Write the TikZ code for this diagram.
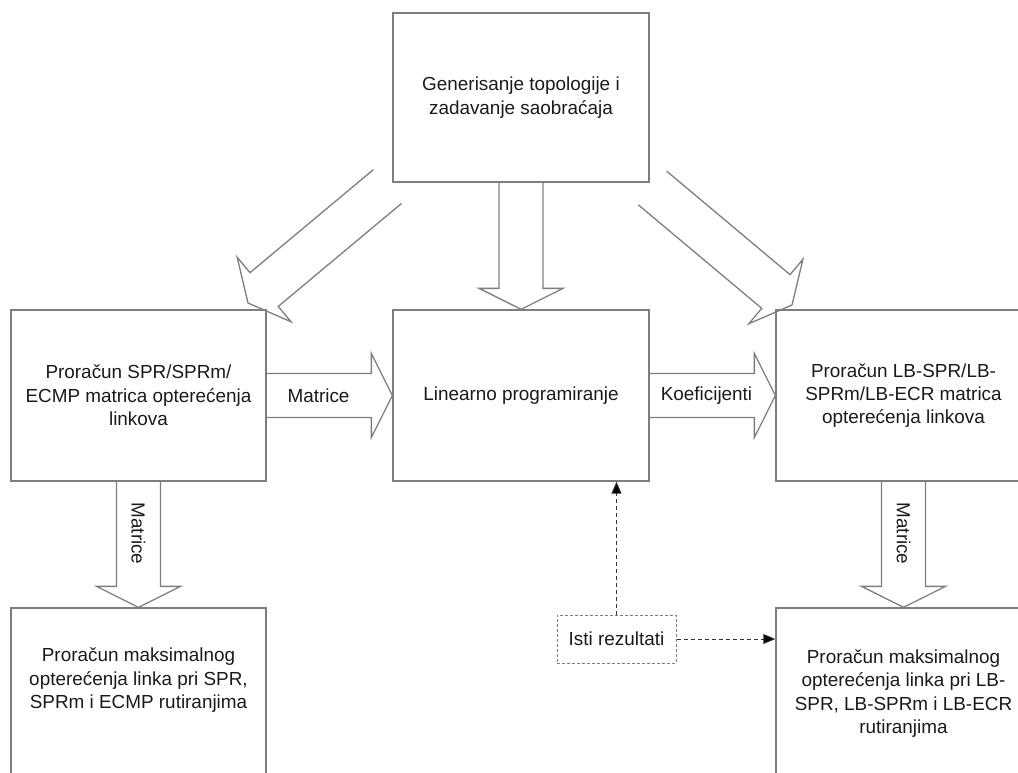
\documentclass[tikz,border=0pt]{standalone}
\usepackage{fontspec}
\setmainfont{Liberation Sans}
\usetikzlibrary{calc,arrows.meta}

\definecolor{edge}{HTML}{7E7E7E}
\definecolor{ink}{HTML}{1A1A1A}
\definecolor{dashink}{HTML}{333333}

\tikzset{
  txt/.style={text=ink, font=\fontsize{18.9}{23.3}\selectfont},
  stage/.style={txt, draw=edge, line width=1.3pt, minimum width=255pt,
    minimum height=171pt, inner sep=0pt, align=center},
  flowlabel/.style={txt, inner sep=0pt},
  blockarrow/.style={draw=edge, line width=1.3pt, line join=miter},
  note/.style={txt, draw=edge, line width=1pt, dash pattern=on 3pt off 2pt,
    minimum width=119pt, minimum height=48pt, inner sep=0pt},
  result/.style={draw=dashink, line width=0.9pt, dash pattern=on 4pt off 3pt,
    -{Triangle[length=12pt,width=10pt,fill=black]}}
}

% Hollow block arrow from base centre #1 to tip #2 (open at the base)
\newcommand\flowarrow[2]{%
  \coordinate (fa-h) at ($(#2)!21pt!(#1)$);
  \draw[blockarrow]
    ($(#1)!22pt!90:(#2)$) -- ($(fa-h)!22pt!90:(#2)$) --
    ($(fa-h)!42pt!90:(#2)$) -- (#2) --
    ($(fa-h)!42pt!-90:(#2)$) -- ($(fa-h)!22pt!-90:(#2)$) --
    ($(#1)!22pt!-90:(#2)$);
}

\begin{document}
\begin{tikzpicture}[x=1pt,y=-1pt]
  \useasboundingbox (0,0) rectangle (1018,773);
  \clip (0,0) rectangle (1018,773);

  % processing stages
  \node[stage, minimum width=256pt, minimum height=169pt] (gen) at (521,97.5)
    {Generisanje topologije i\\zadavanje saobraćaja};
  \node[stage] (spr) at (138.5,395.5)
    {Proračun SPR/SPRm/\\ECMP matrica opterećenja\\linkova};
  \node[stage, minimum width=256pt] (lp) at (521,395.5)
    {Linearno programiranje};
  \node[stage] (lbspr) at (903.5,395.5)
    {Proračun LB-SPR/LB-\\SPRm/LB-ECR matrica\\opterećenja linkova};
  \node[stage] (maxspr) at (138.5,693.5)
    {Proračun maksimalnog\\opterećenja linka pri SPR,\\SPRm i ECMP rutiranjima\\\strut};
  \node[stage] (maxlb) at (903.5,693.5)
    {Proračun maksimalnog\\opterećenja linka pri LB-\\SPR, LB-SPRm i LB-ECR\\rutiranjima};

  % free ends of the slanted arrows
  \coordinate (genL) at (387.5,186.5);
  \coordinate (genR) at (652.5,188);
  \coordinate (sprIn) at (248,303);
  \coordinate (lbIn) at (792,305);

  % data flow
  \flowarrow{gen.south}{lp.north}
  \flowarrow{genL}{sprIn}
  \flowarrow{genR}{lbIn}
  \flowarrow{spr.east}{lp.west}
  \flowarrow{lp.east}{lbspr.west}
  \flowarrow{spr.south}{maxspr.north}
  \flowarrow{lbspr.south}{maxlb.north}

  \node[flowlabel] (m1) at ($(spr.east)!.5!(lp.west)+(-11,0)$) {Matrice};
  \node[flowlabel] (k1) at ($(lp.east)!.5!(lbspr.west)+(-6,0)$) {Koeficijenti};
  \node[flowlabel, rotate=-90] (m2) at ($(spr.south)!.5!(maxspr.north)+(0,-11)$) {Matrice};
  \node[flowlabel, rotate=-90] (m3) at ($(lbspr.south)!.5!(maxlb.north)+(0,-11)$) {Matrice};

  % equality note
  \node[note] (same) at (616.5,639) {Isti rezultati};
  \draw[result] (same.north) -- (same.north |- lp.south);
  \draw[result] (same.east) -- (same.east -| maxlb.west);
\end{tikzpicture}
\end{document}
